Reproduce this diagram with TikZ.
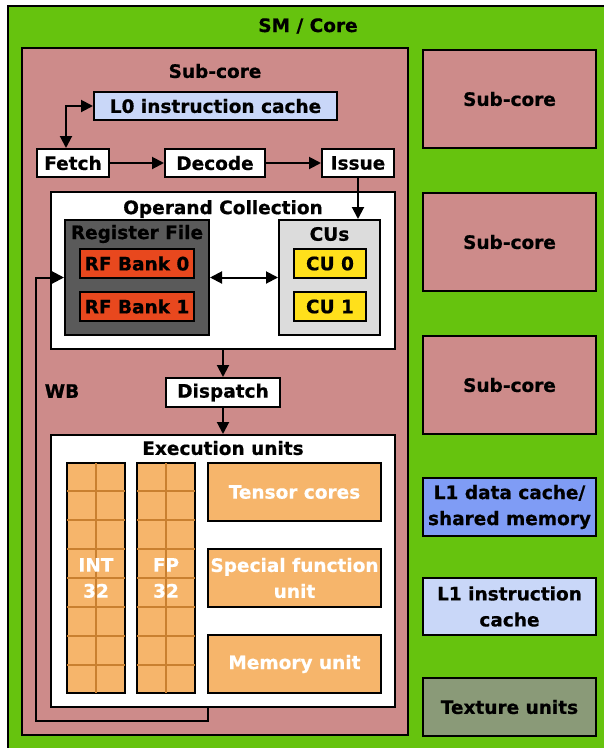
\documentclass[tikz,border=0pt]{standalone}
\usepackage{fontspec}
\setmainfont{DejaVu Sans}[BoldFeatures={FakeBold=0.6}]
\usetikzlibrary{positioning,calc,arrows.meta}
\definecolor{smgreen}{HTML}{66C30E}
\definecolor{subpink}{HTML}{CD8B8A}
\definecolor{lightblue}{HTML}{C9D7F8}
\definecolor{midblue}{HTML}{7F9CF5}
\definecolor{rfgray}{HTML}{5A5A5A}
\definecolor{rfred}{HTML}{E8481E}
\definecolor{cugray}{HTML}{DCDCDC}
\definecolor{cuyellow}{HTML}{FFE01B}
\definecolor{exorange}{HTML}{F6B56B}
\definecolor{gridorange}{HTML}{C98030}
\definecolor{texgreen}{HTML}{8A9A78}

\begin{document}
\begin{tikzpicture}[x=1pt, y=-1pt, font=\fontsize{18.5}{26}\selectfont\bfseries,
       blk/.style={rectangle, draw=black, line width=2pt, inner sep=0pt, align=center},
       unit/.style={blk, fill=exorange, text=white, minimum width=173pt, minimum height=58pt},
       side/.style={blk, minimum width=173pt},
       tip/.tip={Triangle[length=12pt,width=12pt]},
       arr/.style={line width=2pt, -tip},
       gridline/.style={draw=gridorange, line width=1.4pt}]
    \useasboundingbox (0,0) rectangle (604,748);

    % SM and the main sub-core
    \node [blk, fill=smgreen, minimum width=604pt, minimum height=750pt] at (310,381)  (sm) {};
    \node at (308,26) (smtitle) {SM / Core};
    \node [blk, fill=subpink, minimum width=386pt, minimum height=687pt] at (215,391.5) (subcore) {};
    \node at (215,71) (subtitle) {Sub-core};

    % front end
    \node [blk, fill=lightblue, minimum width=243pt, minimum height=28pt] at (215.5,106) (lzero) {L0 instruction cache};
    \node [blk, fill=white, minimum width=72pt, minimum height=28pt]  at (73,163)  (fetch)  {Fetch};
    \node [blk, fill=white, minimum width=100pt, minimum height=28pt] at (215,163) (decode) {Decode};
    \node [blk, fill=white, minimum width=72pt, minimum height=28pt]  at (358,163) (issue)  {Issue};

    % operand collection
    \node [blk, fill=white, minimum width=344pt, minimum height=157pt] at (223,270.5) (opcol) {};
    \node at (223,209) (optitle) {Operand Collection};
    \node [blk, fill=rfgray, minimum width=144pt, minimum height=115pt] at (137,277.5) (regfile) {};
    \node at (137,234) (rftitle) {Register File};
    \node [blk, fill=rfred, minimum width=114pt, minimum height=29pt] at (137,263.5) (rfzero) {RF Bank 0};
    \node [blk, fill=rfred, minimum width=114pt, minimum height=29pt] at (137,306.5) (rfone)  {RF Bank 1};
    \node [blk, fill=cugray, minimum width=101pt, minimum height=115pt] at (329.5,277.5) (cus) {};
    \node at (329.5,234) (cutitle) {CUs};
    \node [blk, fill=cuyellow, minimum width=72pt, minimum height=29pt] at (330,263.5) (cuzero) {CU 0};
    \node [blk, fill=cuyellow, minimum width=72pt, minimum height=29pt] at (330,306.5) (cuone)  {CU 1};

    \node [blk, fill=white, minimum width=114pt, minimum height=29pt] at (223,392.5) (dispatch) {Dispatch};
    \node at (62,391) (wb) {WB};

    % execution units
    \node [blk, fill=white, minimum width=344pt, minimum height=272pt] at (223,571) (exec) {};
    \node at (223,448) (extitle) {Execution units};
    \node [blk, fill=exorange, minimum width=58pt, minimum height=230pt] at (96,578)  (int) {};
    \node [blk, fill=exorange, minimum width=58pt, minimum height=230pt] at (166,578) (fp) {};
    \foreach \c in {int,fp}{
      \foreach \k in {1,...,7}
        \draw [gridline, shorten <=1pt, shorten >=1pt] ($(\c.north west)!\k/8!(\c.south west)$) -- ($(\c.north east)!\k/8!(\c.south east)$);
      \draw [gridline, shorten <=1pt, shorten >=1pt] (\c.north) -- (\c.south);
    }
    \node [text=white, align=center] at (int) (intlbl) {INT\\32};
    \node [text=white, align=center] at (fp)  (fplbl)  {FP\\32};
    \node [unit] at (294.5,492) (tensor) {Tensor cores};
    \node [unit] at (294.5,578) (sfu)    {Special function\\unit};
    \node [unit] at (294.5,664) (mem)    {Memory unit};

    % right column
    \node [side, fill=subpink, minimum height=98pt] at (509.5,99)  (subtwo)   {Sub-core};
    \node [side, fill=subpink, minimum height=98pt] at (509.5,242) (subthree) {Sub-core};
    \node [side, fill=subpink, minimum height=98pt] at (509.5,385) (subfour)  {Sub-core};
    \node [side, fill=midblue, minimum height=58pt] at (509.5,507) (lonedata) {L1 data cache/\\shared memory};
    \node [side, fill=lightblue, minimum height=57pt] at (509.5,606.5) (loneinst) {L1 instruction\\cache};
    \node [side, fill=texgreen, minimum height=58pt] at (509.5,707) (texture) {Texture units};

    % connections
    \draw [arr, tip-tip] ([xshift=-7pt]fetch.north) |- (lzero.west);
    \draw [arr] (fetch) -- (decode);
    \draw [arr] (decode) -- (issue);
    \draw [arr] (issue.south) -- (issue.south |- cus.north);
    \draw [arr, tip-tip] (regfile.east) -- (cus.west);
    \draw [arr] (opcol.south) -- (dispatch.north);
    \draw [arr] (dispatch.south) -- (exec.north);
    \coordinate (wbturn) at (208,721);
    \draw [arr] (exec.south -| wbturn) -- (wbturn) -| ($(regfile.west)+(-28,0)$) -- (regfile.west);
\end{tikzpicture}
\end{document}
